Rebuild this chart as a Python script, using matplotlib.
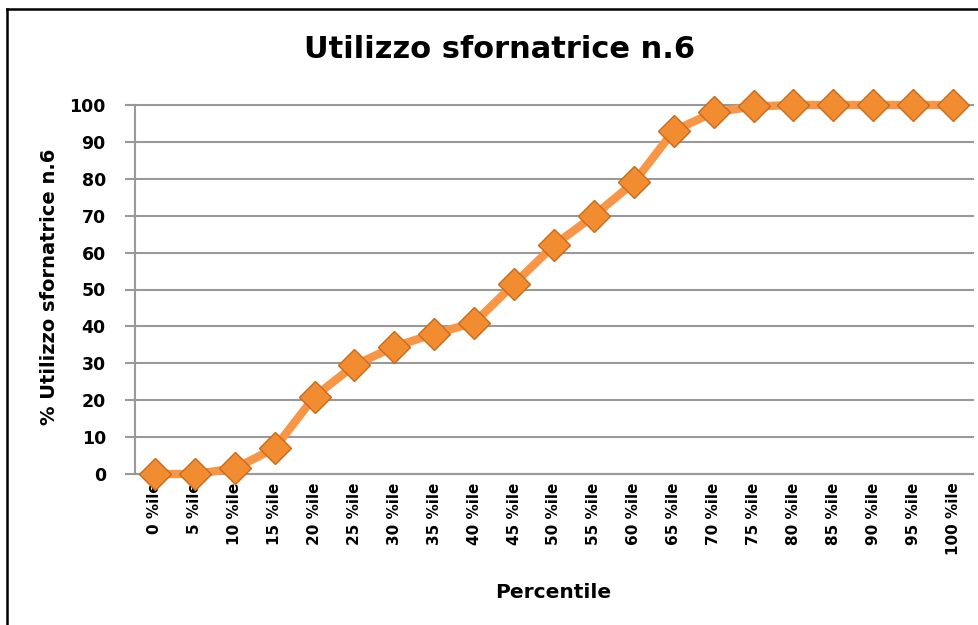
import matplotlib.pyplot as plt
from matplotlib.lines import Line2D

percentili = [0, 5, 10, 15, 20, 25, 30, 35, 40, 45, 50, 55, 60, 65, 70, 75, 80, 85, 90, 95, 100]
etichette = [str(p) + ' %ile' for p in percentili]
utilizzo = [0, 0, 1.5, 7, 21, 29.5, 34.5, 38, 41, 51.5, 62, 70, 79, 93, 98, 99.6, 100, 100, 100, 100, 100]

fig = plt.figure(figsize=(9.79, 6.25), dpi=100)
ax = fig.add_axes([135/979, 1-474/625, (973-135)/979, (474-105)/625])

x = list(range(len(percentili)))
ax.plot(x, utilizzo, color='#F79646', lw=6, solid_joinstyle='round', zorder=3, clip_on=False)
ax.plot(x, utilizzo, ls='none', marker='D', ms=16, mfc='#F28C30', mec='#C86A1E', mew=1, zorder=4, clip_on=False)

ax.set_xlim(-0.5, len(percentili)-0.5)
ax.set_ylim(0, 100)
ax.set_yticks(range(0, 101, 10))
ax.set_xticks(x)
ax.set_xticklabels(etichette, rotation=90, fontsize=11, fontweight='bold')
for lab in ax.get_yticklabels():
    lab.set_fontsize(12.5)
    lab.set_fontweight('bold')
ax.tick_params(axis='y', length=7, color='#999999', width=1.5, pad=14)
ax.tick_params(axis='x', length=0, pad=6)
ax.grid(axis='y', color='#999999', lw=1.5)
for gl in ax.get_ygridlines():
    gl.set_clip_on(False)
ax.set_axisbelow(True)
for s in ['top', 'right']:
    ax.spines[s].set_visible(False)
ax.spines['left'].set_color('#999999')
ax.spines['left'].set_linewidth(1.5)
ax.spines['bottom'].set_color('#999999')
ax.spines['bottom'].set_linewidth(1.5)

fig.text(500/979, 1-50/625, 'Utilizzo sfornatrice n.6', ha='center', va='center', fontsize=22, fontweight='bold')
fig.text(553/979, 1-592/625, 'Percentile', ha='center', va='center', fontsize=14.5, fontweight='bold')
fig.text(50/979, 1-287/625, '% Utilizzo sfornatrice n.6', ha='center', va='center', rotation=90, fontsize=14, fontweight='bold')

# cornice
fig.add_artist(Line2D([7.5/979, 7.5/979], [0, 1-8.5/625], color='black', lw=1.8))
fig.add_artist(Line2D([7.5/979, 1], [1-8.5/625, 1-8.5/625], color='black', lw=1.8))

fig.savefig('out.png', dpi=100)
